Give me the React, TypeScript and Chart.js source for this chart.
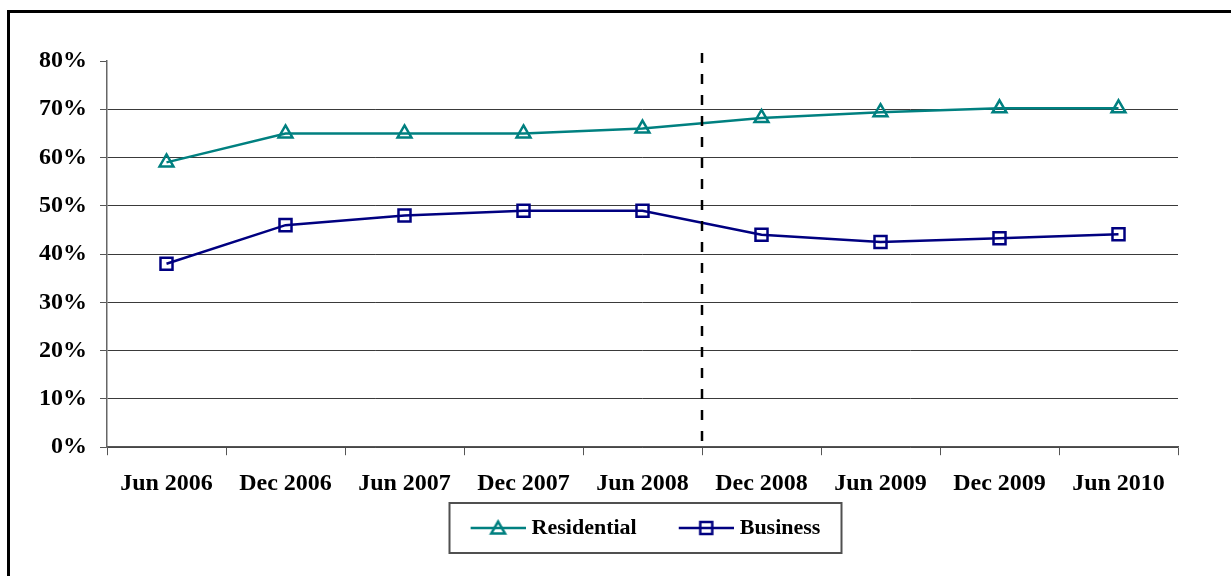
import React, { useEffect, useRef } from 'react';
import { Chart, registerables } from 'chart.js';

Chart.register(...registerables);

// ---- data ----
const categories = ['Jun 2006', 'Dec 2006', 'Jun 2007', 'Dec 2007', 'Jun 2008', 'Dec 2008', 'Jun 2009', 'Dec 2009', 'Jun 2010'];
const residential = [59, 65, 65, 65, 66, 68.2, 69.4, 70.2, 70.2];
const business = [38, 46, 48, 49, 49, 44, 42.5, 43.3, 44.1];
const seriesNames = ['Residential', 'Business'];
const yTickValues = [0, 10, 20, 30, 40, 50, 60, 70, 80];
const dividerAfter = 'Jun 2008';

// ---- styles ----
const COLORS = ['#008080', '#000080'];
const MARKERS = ['triangle', 'rect'];
const FONT_FAMILY = "'Liberation Serif', 'Times New Roman', serif";
const LEGEND_BOX_W = 87;
const LEGEND_PAD = 5;
const LEGEND_SHIFT = 19;

function makeLegendIcon(color: string, marker: string): HTMLCanvasElement {
  const c = document.createElement('canvas');
  c.width = LEGEND_BOX_W + 10;
  c.height = 22;
  const ctx = c.getContext('2d')!;
  const y = 11;
  const x1 = c.width - 55;
  const x2 = c.width;
  ctx.strokeStyle = color;
  ctx.lineWidth = 2.5;
  ctx.beginPath();
  ctx.moveTo(x1, y);
  ctx.lineTo(x2, y);
  ctx.stroke();
  const cx = (x1 + x2) / 2;
  ctx.beginPath();
  if (marker === 'triangle') {
    const r = 8;
    ctx.moveTo(cx, y - r + 1.5);
    ctx.lineTo(cx + r * Math.sqrt(3) / 2, y + r / 2 + 1.5);
    ctx.lineTo(cx - r * Math.sqrt(3) / 2, y + r / 2 + 1.5);
    ctx.closePath();
  } else {
    const s = 6;
    ctx.rect(cx - s, y - s, 2 * s, 2 * s);
  }
  ctx.stroke();
  return c;
}

const decorations = {
  id: 'decorations',
  afterLayout(chart: any) {
    const lg = chart.legend;
    if (lg) {
      lg.left += LEGEND_SHIFT;
      lg.right += LEGEND_SHIFT;
    }
  },
  afterDatasetsDraw(chart: any) {
    const x = chart.scales.x;
    const idx = categories.indexOf(dividerAfter) + 0.5;
    const px = x.getPixelForValue(idx);
    const { top, bottom } = chart.chartArea;
    const ctx = chart.ctx;
    ctx.save();
    ctx.strokeStyle = '#000';
    ctx.lineWidth = 2.5;
    ctx.setLineDash([10, 11]);
    ctx.beginPath();
    ctx.moveTo(px, top - 8);
    ctx.lineTo(px, bottom);
    ctx.stroke();
    ctx.restore();
  },
  afterDraw(chart: any) {
    const lg = chart.legend;
    if (!lg || !lg.legendHitBoxes || !lg.legendHitBoxes.length) return;
    const hb = lg.legendHitBoxes;
    const first = hb[0];
    const last = hb[hb.length - 1];
    const left = first.left + 15;
    const right = last.left + last.width + 20;
    const cy = first.top + first.height / 2;
    const ctx = chart.ctx;
    ctx.save();
    ctx.strokeStyle = '#505050';
    ctx.lineWidth = 2;
    ctx.strokeRect(Math.round(left) + 0.5, Math.round(cy - 25), Math.round(right - left), 50);
    ctx.restore();
  },
};

export default function App() {
  const ref = useRef<HTMLCanvasElement | null>(null);

  useEffect(() => {
    if (!ref.current) return;
    const icons = [makeLegendIcon(COLORS[0], MARKERS[0]), makeLegendIcon(COLORS[1], MARKERS[1])];
    const seriesData = [residential, business];
    const chart = new Chart(ref.current, {
      type: 'line',
      data: {
        labels: categories,
        datasets: seriesNames.map((name, i) => ({
          label: name,
          data: seriesData[i],
          borderColor: COLORS[i],
          backgroundColor: COLORS[i],
          borderWidth: 2.5,
          pointStyle: MARKERS[i] as any,
          pointRadius: i === 0 ? 8 : 8.5,
          pointBorderWidth: 2.5,
          pointBorderColor: COLORS[i],
          pointBackgroundColor: 'rgba(0,0,0,0)',
          tension: 0,
          fill: false,
        })),
      },
      options: {
        animation: false,
        responsive: true,
        maintainAspectRatio: false,
        layout: { padding: { left: 28, right: 72, top: 48, bottom: 27 } },
        plugins: {
          title: { display: false },
          tooltip: { enabled: false },
          legend: {
            display: true,
            position: 'bottom',
            labels: {
              usePointStyle: true,
              pointStyleWidth: LEGEND_BOX_W,
              padding: LEGEND_PAD,
              color: '#000',
              font: { family: FONT_FAMILY, size: 22, weight: 'bold' },
              generateLabels: (ch: any) => {
                const items = (Chart.defaults.plugins.legend.labels as any).generateLabels(ch);
                items.forEach((it: any, i: number) => {
                  it.pointStyle = icons[i];
                });
                return items;
              },
            },
          },
        },
        scales: {
          x: {
            offset: true,
            grid: {
              display: true,
              drawOnChartArea: false,
              drawTicks: true,
              tickLength: 8,
              offset: true,
              color: '#555',
              tickColor: '#555',
            },
            border: { display: true, color: '#555', width: 1.5 },
            ticks: {
              color: '#000',
              padding: 14,
              maxRotation: 0,
              autoSkip: false,
              font: { family: FONT_FAMILY, size: 24, weight: 'bold' },
            },
          },
          y: {
            min: yTickValues[0],
            max: yTickValues[yTickValues.length - 1],
            afterFit: (scale: any) => {
              scale.width = 69;
            },
            afterBuildTicks: (scale: any) => {
              scale.ticks = yTickValues.map((v) => ({ value: v }));
            },
            grid: {
              drawTicks: true,
              tickLength: 7,
              color: (c: any) => (c.tick && c.tick.value === yTickValues[yTickValues.length - 1] ? 'rgba(0,0,0,0)' : '#3a3a3a'),
              tickColor: '#555',
            },
            border: { display: true, color: '#666', width: 1.5 },
            ticks: {
              color: '#000',
              padding: 13,
              callback: (v: any) => v + '%',
              font: { family: FONT_FAMILY, size: 24, weight: 'bold' },
            },
          },
        },
      },
      plugins: [decorations],
    } as any);
    return () => chart.destroy();
  }, []);

  return (
    <div style={{ position: 'fixed', left: 0, top: 0, width: 1231, height: 576, overflow: 'hidden', background: '#fff' }}>
      <div
        style={{
          position: 'absolute',
          left: 7,
          top: 10,
          width: 1300,
          height: 700,
          border: '3px solid #000',
          boxSizing: 'border-box',
        }}
      />
      <div style={{ position: 'absolute', left: 10, top: 13, width: 1240, height: 563 }}>
        <canvas ref={ref} />
      </div>
    </div>
  );
}
